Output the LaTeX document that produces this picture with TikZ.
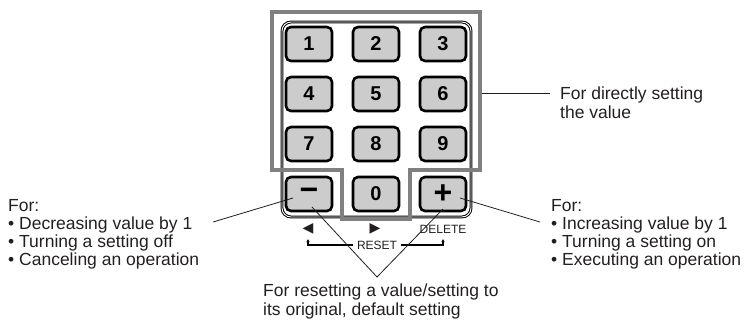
\documentclass[tikz,border=0pt]{standalone}
\usepackage{fontspec}
\setmainfont{Liberation Sans}
\newfontfamily\symfont{DejaVu Sans}
\usetikzlibrary{arrows.meta, positioning, calc}
\definecolor{keygray}{HTML}{CCCCCC}
\definecolor{framegray}{HTML}{808080}
\definecolor{inkgray}{HTML}{231F20}

\begin{document}
\begin{tikzpicture}[x=1pt, y=-1pt,
  key/.style={rectangle, draw, line width=2.6pt, rounded corners=5pt, fill=keygray, minimum width=46pt, minimum height=34pt, inner sep=0pt, font=\fontsize{20}{20}\selectfont\bfseries},
  signkey/.style={key, font=\fontsize{32}{32}\selectfont\bfseries},
  note/.style={anchor=north west, align=left, inner sep=0pt, text=inkgray, font=\fontsize{17.5}{18.2}\selectfont},
  tag/.style={inner sep=1pt, text=inkgray, font=\fontsize{12}{12}\selectfont},
  leader/.style={line width=0.8pt, inkgray},
  bracket/.style={line width=1.1pt, -{Latex[length=3pt, width=3.5pt]}}]

\useasboundingbox (0,0) rectangle (752,325);

\draw[double, line width=1pt, double distance=0.9pt, rounded corners=9pt] (282,22) rectangle (471,217);

\node[key] (k1) at (309,44) {1};
\node[key] (k2) at (376,44) {2};
\node[key] (k3) at (443,44) {3};
\node[key] (k4) at (309,94) {4};
\node[key] (k5) at (376,94) {5};
\node[key] (k6) at (443,94) {6};
\node[key] (k7) at (309,144) {7};
\node[key] (k8) at (376,144) {8};
\node[key] (k9) at (443,144) {9};
\node[signkey] (kminus) at (309,194) {−};
\node[key] (k0) at (376,194) {0};
\node[signkey] (kplus) at (443,194) {+};

\draw[framegray, line width=4pt, line join=miter] (272,170) -- (272,12) -- (480,12) -- (480,170) -- (410,170) -- (410,219) -- (342,219) -- (342,170) -- cycle;

\node[tag, font=\symfont\fontsize{14}{14}\selectfont] (leftmark) at (308,229) {◀};
\node[tag, font=\symfont\fontsize{14}{14}\selectfont] (rightmark) at (375,229) {▶};
\node[tag] (delete) at (443,229) {DELETE};
\node[tag, inner sep=4pt] (reset) at (377,245) {RESET};
\coordinate (ltick) at (308,239);
\coordinate (rtick) at (443,239);
\draw[bracket] (reset.west) -| (ltick);
\draw[bracket] (reset.east) -| (rtick);

\node[note] (direct) at (560,87) {For directly setting\\the value};
\node[note] (decnote) at (8,199) {For:\\• Decreasing value by 1\\• Turning a setting off\\• Canceling an operation};
\node[note] (incnote) at (551,199) {For:\\• Increasing value by 1\\• Turning a setting on\\• Executing an operation};
\node[note] (resetnote) at (263,284) {For resetting a value/setting to\\its original, default setting};

\coordinate (frameside) at (482,93);
\coordinate (decend) at (213,222);
\coordinate (incend) at (540,222);
\coordinate (apex) at (377,277);

\draw[leader] (frameside) -- ([xshift=-10pt]direct.west |- frameside);
\draw[leader] (decend) -- ($(kminus.center)+(-16,4)$);
\draw[leader] (incend) -- ($(kplus.center)+(17,4)$);
\draw[leader] ($(kminus.center)+(3,13)$) -- (apex) -- ($(kplus.center)+(0,15)$);
\end{tikzpicture}
\end{document}
